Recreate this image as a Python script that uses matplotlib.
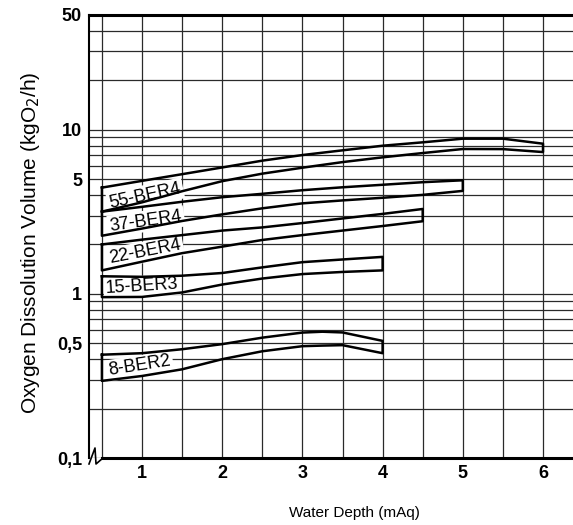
import matplotlib
matplotlib.use("Agg")
import matplotlib.pyplot as plt

plt.rcParams['font.family'] = ['Liberation Sans', 'DejaVu Sans']

# ---------- data (water depth in mAq, O2 in kgO2/h) ----------
depth_55 = [0.5, 1, 1.5, 2, 2.5, 3, 3.5, 4, 4.5, 5, 5.5, 6]
hi_55 = [4.44, 4.88, 5.36, 5.89, 6.48, 7.01, 7.49, 7.99, 8.38, 8.82, 8.82, 8.22]
lo_55 = [3.17, 3.61, 4.22, 4.86, 5.40, 5.87, 6.35, 6.79, 7.21, 7.63, 7.62, 7.31]

depth_37 = [0.5, 1, 1.5, 2, 2.5, 3, 3.5, 4, 4.5, 5]
hi_37 = [3.17, 3.39, 3.64, 3.88, 4.07, 4.28, 4.46, 4.62, 4.79, 4.92]
lo_37 = [2.26, 2.50, 2.78, 3.05, 3.32, 3.56, 3.71, 3.85, 4.01, 4.24]

depth_22 = [0.5, 1, 1.5, 2, 2.5, 3, 3.5, 4, 4.5]
hi_22 = [2.00, 2.14, 2.28, 2.43, 2.54, 2.70, 2.88, 3.07, 3.29]
lo_22 = [1.39, 1.57, 1.77, 1.94, 2.13, 2.28, 2.43, 2.59, 2.77]

depth_15 = [0.5, 1, 1.5, 2, 2.5, 3, 3.5, 4]
hi_15 = [1.28, 1.27, 1.29, 1.34, 1.45, 1.56, 1.62, 1.68]
lo_15 = [0.955, 0.958, 1.02, 1.14, 1.24, 1.32, 1.36, 1.39]

depth_8 = [0.5, 1, 1.5, 2, 2.5, 3, 3.25, 3.5, 4]
hi_8 = [0.426, 0.435, 0.460, 0.494, 0.541, 0.581, 0.588, 0.582, 0.517]
lo_8 = [0.295, 0.316, 0.347, 0.400, 0.447, 0.480, 0.484, 0.487, 0.435]

models = ["55-BER4", "37-BER4", "22-BER4", "15-BER3", "8-BER2"]
bands = [(depth_55, hi_55, lo_55), (depth_37, hi_37, lo_37),
         (depth_22, hi_22, lo_22), (depth_15, hi_15, lo_15),
         (depth_8, hi_8, lo_8)]

# label anchors (x, y, angle) inside each band
label_pos = [(1.04, 3.96, 12), (1.05, 2.77, 8), (1.04, 1.80, 11),
             (1.00, 1.11, 3.5), (0.97, 0.364, 9)]

x_ticks = [1, 2, 3, 4, 5, 6]
x_minor = [0.5, 1.5, 2.5, 3.5, 4.5, 5.5]
y_ticks = [0.1, 0.5, 1, 5, 10, 50]
y_ticklabels = ["0,1", "0,5", "1", "5", "10", "50"]
y_minor = [0.2, 0.3, 0.4, 0.6, 0.7, 0.8, 0.9, 2, 3, 4, 6, 7, 8, 9, 20, 30, 40]

# ---------- figure ----------
fig = plt.figure(figsize=(5.73, 5.25), dpi=100)
ax = fig.add_axes([89/573, 1 - 458/525, 484/573, 443/525])
ax.set_yscale("log")
ax.set_xlim(0.339, 6.374)
ax.set_ylim(0.1, 50)

ax.set_xticks(x_ticks)
ax.set_xticks(x_minor, minor=True)
ax.set_yticks(y_ticks)
ax.set_yticklabels(y_ticklabels)
ax.set_yticks(y_minor, minor=True)
ax.yaxis.set_minor_formatter(plt.NullFormatter())
ax.tick_params(which="both", length=0)
ax.tick_params(axis="y", pad=5, labelsize=13)
ax.tick_params(axis="x", pad=5, labelsize=13)
for t in ax.get_xticklabels() + ax.get_yticklabels():
    t.set_fontweight("bold")

ax.grid(which="both", color="#2a2a2a", lw=0.9)
ax.set_axisbelow(True)

ax.spines["right"].set_visible(False)
ax.spines["top"].set_linewidth(2.2)
ax.spines["left"].set_linewidth(1.5)
ax.spines["bottom"].set_linewidth(2.2)
ax.spines["bottom"].set_bounds(0.5, 6.374)

# axis break mark at the lower left corner
ax.plot([0, 0.0124, 0.0145, 0.0289], [-0.0135, 0.0226, -0.0135, 0],
        transform=ax.transAxes, color="k", lw=1.2, clip_on=False)

for (d, hi, lo), name, (lx, ly, rot) in zip(bands, models, label_pos):
    xs = list(d) + list(d[::-1]) + [d[0]]
    ys = list(hi) + list(lo[::-1]) + [hi[0]]
    ax.plot(xs, ys, color="k", lw=1.8, solid_joinstyle="round", zorder=3)
    ax.text(lx, ly, name, fontsize=13, rotation=rot, rotation_mode="anchor",
            ha="center", va="center", zorder=2,
            bbox=dict(facecolor="white", edgecolor="none", pad=1.5))

ax.set_ylabel("Oxygen Dissolution Volume (kgO$_2$/h)", fontsize=15)
ax.yaxis.set_label_coords(-0.097, 0.486)
ax.set_xlabel("Water Depth (mAq)", fontsize=11)
ax.xaxis.label.set_va("center")
ax.xaxis.set_label_coords(0.5486, -0.124)

fig.savefig("out.png", dpi=100)
